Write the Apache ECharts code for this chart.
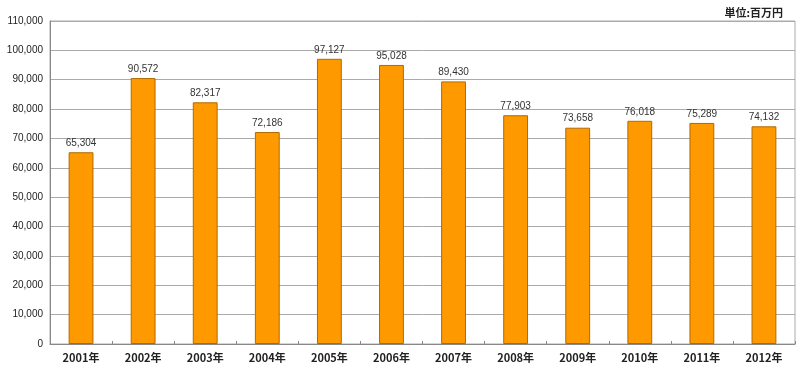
<!DOCTYPE html>
<html><head><meta charset="utf-8">
<script src="https://cdn.jsdelivr.net/npm/echarts@6/dist/echarts.min.js"></script>
<style>html,body{margin:0;padding:0;background:#fff}#c{width:800px;height:370px}</style>
</head><body><div id="c"></div>
<script>
const categories = ["2001年","2002年","2003年","2004年","2005年","2006年","2007年","2008年","2009年","2010年","2011年","2012年"];
const values = [65304,90572,82317,72186,97127,95028,89430,77903,73658,76018,75289,74132];
const unitLabel = "単位:百万円";
const chart = echarts.init(document.getElementById('c'));
chart.setOption({
  animation:false,
  title:{text:unitLabel,right:12,top:2,textStyle:{fontSize:11,fontWeight:'bold',color:'#222',fontFamily:'Noto Sans CJK JP'}},
  grid:{left:50,right:5,top:21,bottom:26,show:true,borderColor:'#aaa',borderWidth:1},
  xAxis:{type:'category',data:categories,
    axisLine:{lineStyle:{color:'#888'}},
    axisTick:{show:true,interval:0,inside:true,length:3,lineStyle:{color:'#888'}},
    axisLabel:{fontSize:11,fontWeight:'bold',color:'#222',margin:8,fontFamily:'Noto Sans CJK JP'}},
  yAxis:{type:'value',min:0,max:110000,interval:10000,
    axisLine:{show:true,lineStyle:{color:'#888'}},
    axisTick:{show:false},
    splitLine:{lineStyle:{color:'#aaa'}},
    axisLabel:{fontSize:10,color:'#222',margin:7,fontFamily:'Liberation Sans',
      formatter:v=>v.toLocaleString('en-US')}},
  series:[{type:'bar',data:values,barWidth:'40%',
    itemStyle:{color:'#FF9900',borderColor:'#B06A00',borderWidth:1},
    label:{show:true,position:'top',distance:4,fontSize:10,color:'#333',fontFamily:'Liberation Sans',
      formatter:p=>p.value.toLocaleString('en-US')}}]
});
</script></body></html>
